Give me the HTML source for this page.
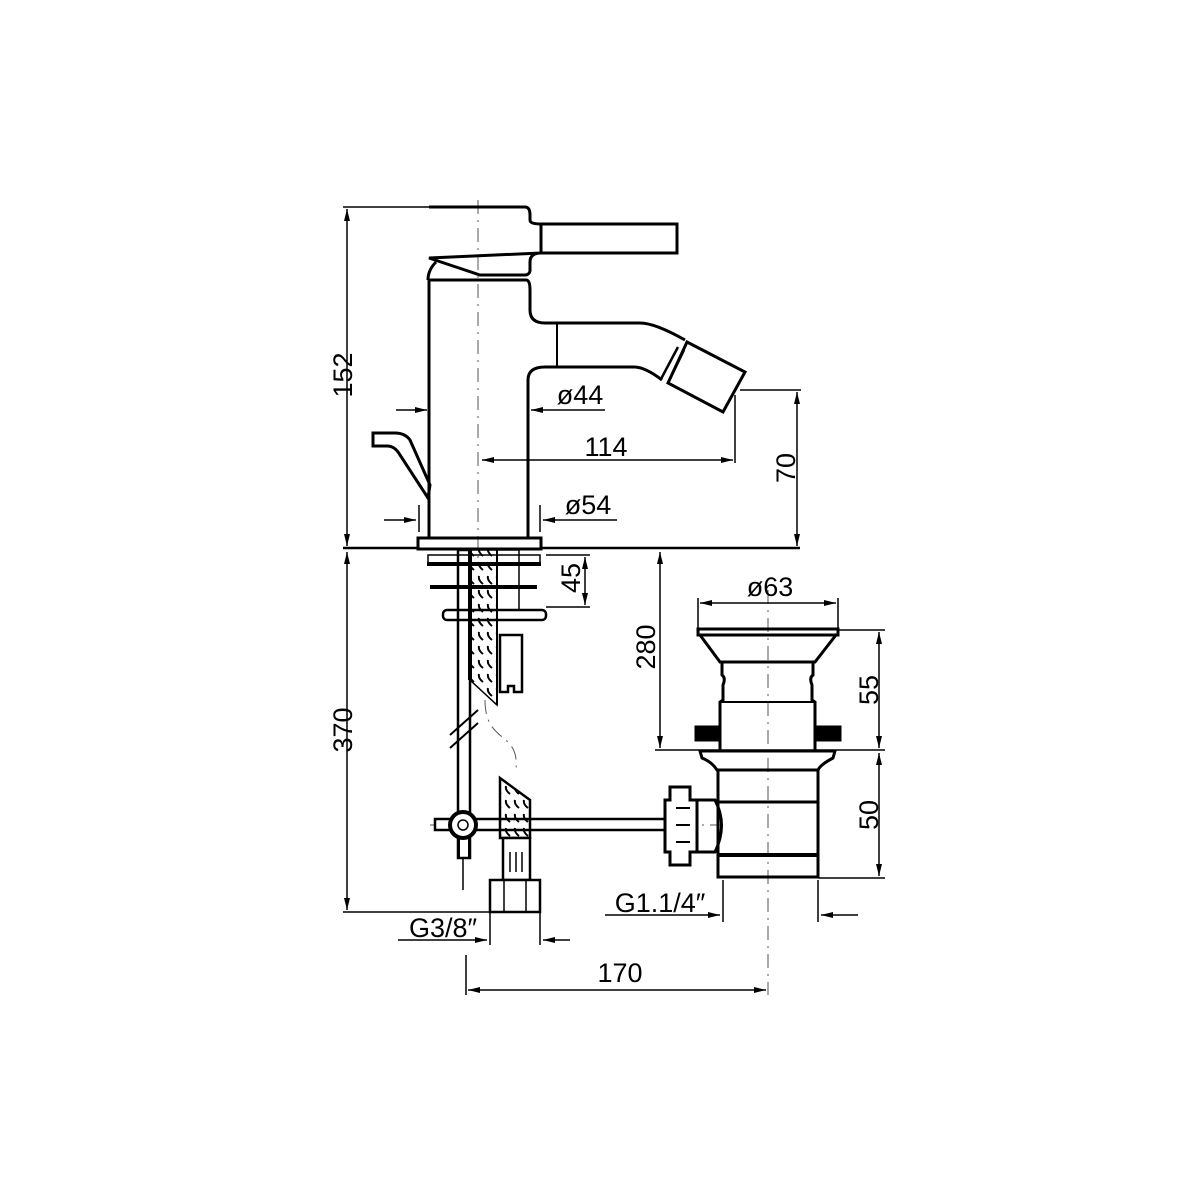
<!DOCTYPE html>
<html><head><meta charset="utf-8"><style>
html,body{margin:0;padding:0;background:#fff;width:1200px;height:1200px;overflow:hidden}
text{font-family:"Liberation Sans",sans-serif;font-size:27px;fill:#000}
</style></head><body>
<svg width="1200" height="1200" viewBox="0 0 1200 1200" xmlns="http://www.w3.org/2000/svg">
<defs>
<marker id="a" viewBox="0 0 12 6" refX="12" refY="3" markerWidth="12" markerHeight="6" orient="auto-start-reverse" markerUnits="userSpaceOnUse"><path d="M0,0L12,3L0,6z" fill="#000"/></marker>
<pattern id="h" width="9" height="14" patternUnits="userSpaceOnUse"><path d="M2,2 Q1,6 6,10" stroke="#000" stroke-width="2" fill="none"/></pattern>
</defs>
<g fill="none" stroke="#000" stroke-width="1.5">
<g stroke-dasharray="14,6,2,6" stroke-width="1" stroke="#555">
<line x1="478" y1="200" x2="478" y2="560"/>
<line x1="768" y1="590" x2="768" y2="995"/>
<line x1="430" y1="825" x2="720" y2="825"/>
<path d="M485,700 C485,745 520,730 516,770"/>
</g>
<line x1="347" y1="209" x2="347" y2="546" marker-start="url(#a)" marker-end="url(#a)"/>
<line x1="343" y1="207" x2="429" y2="207"/>
<line x1="343" y1="548" x2="418" y2="548" stroke-width="2.5"/>
<line x1="541" y1="548" x2="800" y2="548" stroke-width="2.5"/>
<g stroke-width="3">
<path d="M429,207 H525 Q530,207 530,215 V220 Q530,224 541,224 M541,253 Q530,253 530,262 V271 Q529,275 525,275 H480 L429,258 Z"/>
<rect x="541" y="224" width="136" height="29"/>
<path d="M436,262 Q428,270 428,280"/>
<path d="M429,538 V280 H526 Q530,280 530,290 V310 Q530,323 545,323 H640 Q655,323 685,340"/>
<path d="M528,538 V380 Q528,367 545,367 H634 Q645,367 662,380"/>
<line x1="557" y1="323" x2="557" y2="367" stroke-width="2"/>
<path d="M687,342 L745,372 L723,412 L668,383 Z"/>
<path d="M678,347 L661,379 M684,350 L668,383" stroke-width="2.5"/>
<path d="M373,433 V446 H387 Q395,446 400,455 L428,498 L430,485 L410,440 Q405,433 395,433 Z"/>
<rect x="418" y="538" width="123" height="11"/>
</g>
<line x1="396" y1="410" x2="427" y2="410" marker-end="url(#a)"/>
<line x1="605" y1="410" x2="531" y2="410" marker-end="url(#a)"/>
<line x1="482" y1="460" x2="733" y2="460" marker-start="url(#a)" marker-end="url(#a)"/>
<line x1="735" y1="395" x2="735" y2="463"/>
<line x1="740" y1="390" x2="801" y2="390"/>
<line x1="797" y1="392" x2="797" y2="546" marker-start="url(#a)" marker-end="url(#a)"/>
<line x1="384" y1="520" x2="416" y2="520" marker-end="url(#a)"/>
<line x1="419" y1="505" x2="419" y2="532"/>
<line x1="617" y1="520" x2="543" y2="520" marker-end="url(#a)"/>
<line x1="540" y1="505" x2="540" y2="532"/>
<rect x="428" y="555" width="112" height="8"/>
<line x1="427" y1="564" x2="541" y2="564" stroke-width="4"/>
<line x1="430" y1="587" x2="537" y2="587" stroke-width="4"/>
<rect x="443" y="610" width="103" height="10" rx="4" stroke-width="2.5"/>
<rect x="458" y="550" width="12" height="308" stroke-width="2.5"/>
<path d="M470,550 H497 V705 L470,680 Z" fill="url(#h)"/>
<line x1="470" y1="550" x2="470" y2="680" stroke-width="4"/>
<line x1="497" y1="550" x2="497" y2="705" stroke-width="2"/>
<rect x="497" y="550" width="22" height="60"/>
<path d="M500,635 H522 V692 H514 V686 H508 V692 H500 Z" stroke-width="2.5"/>
<path d="M450,735 L478,710 M450,748 L478,723" stroke-width="2"/>
<rect x="435" y="819" width="240" height="11" fill="#fff" stroke-width="2.5"/>
<rect x="459" y="830" width="10" height="28" stroke-width="2"/>
<circle cx="463" cy="825" r="13" fill="#fff" stroke-width="4"/>
<circle cx="463" cy="825" r="5" stroke-width="1.5"/>
<line x1="463" y1="858" x2="463" y2="890"/>
<path d="M500,778 L530,800 V838 H500 Z" fill="url(#h)" stroke-width="2.5"/>
<rect x="503" y="838" width="27" height="42" fill="#fff" stroke-width="2.5"/>
<path d="M510,852 V872 M516,852 V872 M522,852 V872" stroke-width="1.5"/>
<rect x="490" y="880" width="50" height="32" fill="#fff" stroke-width="2.5"/>
<line x1="504" y1="880" x2="504" y2="912"/><line x1="526" y1="880" x2="526" y2="912"/>
<line x1="347" y1="552" x2="347" y2="910" marker-start="url(#a)" marker-end="url(#a)"/>
<line x1="343" y1="912" x2="490" y2="912"/>
<line x1="546" y1="555" x2="590" y2="555"/>
<line x1="546" y1="607" x2="590" y2="607"/>
<line x1="585" y1="557" x2="585" y2="605" marker-start="url(#a)" marker-end="url(#a)"/>
<line x1="398" y1="940" x2="487" y2="940" marker-end="url(#a)"/>
<line x1="490" y1="912" x2="490" y2="945"/>
<line x1="540" y1="912" x2="540" y2="945"/>
<line x1="570" y1="940" x2="543" y2="940" marker-end="url(#a)"/>
<line x1="466" y1="955" x2="466" y2="995"/>
<line x1="468" y1="990" x2="766" y2="990" marker-start="url(#a)" marker-end="url(#a)"/>
<line x1="660" y1="552" x2="660" y2="748" marker-start="url(#a)" marker-end="url(#a)"/>
<line x1="655" y1="750" x2="885" y2="750"/>
<line x1="698" y1="598" x2="698" y2="628"/><line x1="838" y1="598" x2="838" y2="628"/>
<line x1="700" y1="603" x2="836" y2="603" marker-start="url(#a)" marker-end="url(#a)"/>
<g stroke-width="3">
<rect x="698" y="629" width="140" height="6"/>
<path d="M700,635 L720,662 H815 L836,635"/>
<path d="M722,662 V675 Q726,678 723,685 V700 L720,702 V750 M813,662 V675 Q809,678 812,685 V700 L815,702 V750"/>
<line x1="720" y1="702" x2="815" y2="702" stroke-width="2"/>
<rect x="696" y="727" width="24" height="13" fill="#000"/>
<rect x="815" y="727" width="25" height="13" fill="#000"/>
<path d="M700,751 H835 L833,758 Q820,765 818,770 H717 Q712,762 702,758 Z"/>
<path d="M718,770 V877 H818 V770"/>
<line x1="718" y1="802" x2="818" y2="802"/>
<line x1="718" y1="855" x2="818" y2="855" stroke-width="4"/>
<path d="M695,800 H715 Q728,825 715,852 H695"/>
<path d="M670,787 H690 V800 H697 V852 H690 V865 H670 V852 H665 V800 H670 Z" fill="#fff"/>
<path d="M676,808 H690 M676,825 H690 M676,842 H690" stroke-width="2"/>
</g>
<line x1="838" y1="630" x2="885" y2="630"/>
<line x1="818" y1="878" x2="885" y2="878"/>
<line x1="879" y1="632" x2="879" y2="748" marker-start="url(#a)" marker-end="url(#a)"/>
<line x1="879" y1="753" x2="879" y2="876" marker-start="url(#a)" marker-end="url(#a)"/>
<line x1="723" y1="880" x2="723" y2="922"/><line x1="818" y1="880" x2="818" y2="922"/>
<line x1="605" y1="915" x2="720" y2="915" marker-end="url(#a)"/>
<line x1="858" y1="915" x2="821" y2="915" marker-end="url(#a)"/>
</g>
<text transform="translate(352,375) rotate(-90)" text-anchor="middle">152</text>
<text x="580" y="404" text-anchor="middle">ø44</text>
<text x="606" y="456" text-anchor="middle">114</text>
<text transform="translate(795,468) rotate(-90)" text-anchor="middle">70</text>
<text x="588" y="514" text-anchor="middle">ø54</text>
<text transform="translate(580,578) rotate(-90)" text-anchor="middle">45</text>
<text transform="translate(655,647) rotate(-90)" text-anchor="middle">280</text>
<text x="770" y="596" text-anchor="middle">ø63</text>
<text transform="translate(878,690) rotate(-90)" text-anchor="middle">55</text>
<text transform="translate(878,815) rotate(-90)" text-anchor="middle">50</text>
<text transform="translate(352,730) rotate(-90)" text-anchor="middle">370</text>
<text x="443" y="937" text-anchor="middle">G3/8″</text>
<text x="660" y="912" text-anchor="middle">G1.1/4″</text>
<text x="620" y="982" text-anchor="middle">170</text>
</svg>
</body></html>
